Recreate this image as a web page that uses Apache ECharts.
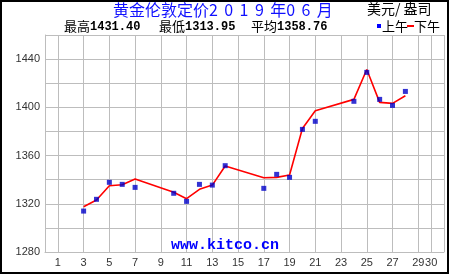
<!DOCTYPE html>
<html>
<head>
<meta charset="utf-8">
<script src="https://cdn.jsdelivr.net/npm/echarts@6/dist/echarts.min.js"></script>
<style>
html,body{margin:0;padding:0;background:#fff;}
#c{width:450px;height:275px;}
</style>
</head>
<body>
<div id="c"></div>
<script>
// Days of month (category axis 0..31)
var days = [];
for (var d = 0; d <= 31; d++) days.push(String(d));

// Trading days and prices
var tradeDays = [3, 4, 5, 6, 7, 10, 11, 12, 13, 14, 17, 18, 19, 20, 21, 24, 25, 26, 27, 28];
var amPrices = [1313.95, 1323.7, 1337.8, 1336.1, 1333.6, 1328.7, 1322.0, 1336.1, 1335.5, 1351.6, 1332.8, 1344.4, 1341.9, 1381.7, 1388.4, 1405.0, 1429.0, 1406.6, 1401.6, 1413.2];
var pmPrices = [1317.6, 1323.1, 1335.0, 1335.8, 1340.5, 1329.5, 1324.2, 1332.0, 1335.5, 1351.3, 1341.6, 1341.9, 1343.8, 1382.5, 1397.2, 1406.6, 1431.40, 1404.1, 1403.3, 1409.6];

var xLabelDays = [1, 3, 5, 7, 9, 11, 13, 15, 17, 19, 21, 23, 25, 27, 29, 30];
var xGridDays = [1, 3, 5, 7, 9, 11, 13, 15, 17, 19, 21, 23, 25, 27, 29, 30, 31];
var yLabels = [1280, 1320, 1360, 1400, 1440];

var titleParts = ['黄金伦敦定价', '2 ', '0 ', '1 ', '9 ', '年', '0 ', '6 ', '月'];
var unitText = '美元/ 盎司';
var statHigh = '1431.40', statLow = '1313.95', statAvg = '1358.76';

function toSeries(vals) {
  var arr = days.map(function () { return null; });
  tradeDays.forEach(function (d, i) { arr[d] = vals[i]; });
  return arr;
}

var chart = echarts.init(document.getElementById('c'));
var cjk = '"Noto Sans CJK SC", sans-serif';
var mono = '"Liberation Mono", "DejaVu Sans Mono", monospace';

var titleRich = titleParts.map(function (p) {
  return /^[0-9]/.test(p) ? '{d|' + p + '}' : '{t|' + p + '}';
}).join('');

var statRich = { c: { font: '13px ' + cjk, fill: '#000' }, n: { font: 'bold 12px ' + mono, fill: '#000' } };

chart.setOption({
  animation: false,
  backgroundColor: '#fff',
  grid: { left: 45, right: 6, top: 35, bottom: 23, containLabel: false },
  xAxis: {
    type: 'category',
    data: days,
    boundaryGap: false,
    axisLine: { show: true, lineStyle: { color: '#bdbdbd', width: 1 } },
    axisTick: { show: false },
    axisLabel: {
      interval: function (i) { return xLabelDays.indexOf(i) >= 0; },
      color: '#333', fontSize: 11, fontFamily: '"Liberation Sans", sans-serif', margin: 5
    },
    splitLine: {
      show: true,
      interval: function (i) { return xGridDays.indexOf(i) >= 0; },
      lineStyle: { color: '#bdbdbd', width: 1 }
    }
  },
  yAxis: {
    type: 'value',
    min: 1280, max: 1460, interval: 20,
    axisLine: { show: true, lineStyle: { color: '#bdbdbd', width: 1 } },
    axisTick: { show: false },
    axisLabel: {
      formatter: function (v) { return yLabels.indexOf(v) >= 0 ? String(v) : ''; },
      color: '#333', fontSize: 11, fontFamily: '"Liberation Sans", sans-serif', margin: 5
    },
    splitLine: { show: true, lineStyle: { color: '#bdbdbd', width: 1 } }
  },
  series: [
    {
      name: '下午', type: 'line', data: toSeries(pmPrices), connectNulls: true,
      showSymbol: false, lineStyle: { color: '#ff0000', width: 1.6 }, itemStyle: { color: '#ff0000' }, z: 2
    },
    {
      name: '上午', type: 'scatter', data: toSeries(amPrices), symbol: 'rect', symbolSize: 5,
      itemStyle: { color: '#0000c8' }, z: 3
    }
  ],
  graphic: [
    { type: 'rect', shape: { x: 1, y: 1, width: 447, height: 272 }, style: { fill: 'none', stroke: '#000', lineWidth: 2 }, silent: true },
    { type: 'text', left: 113, top: 2, style: { text: titleRich, rich: {
      t: { font: '16px ' + cjk, fill: '#1010ff' },
      d: { font: '16px ' + cjk, fill: '#1010ff', width: 15.3, align: 'left' }
    } } },
    { type: 'text', left: 367, top: 2, style: { text: unitText, fill: '#000', font: '14px ' + cjk } },
    { type: 'text', left: 64, top: 20, style: { text: '{c|最高}{n|' + statHigh + '}', rich: statRich } },
    { type: 'text', left: 159, top: 20, style: { text: '{c|最低}{n|' + statLow + '}', rich: statRich } },
    { type: 'text', left: 251, top: 20, style: { text: '{c|平均}{n|' + statAvg + '}', rich: statRich } },
    { type: 'rect', shape: { x: 377, y: 24, width: 4, height: 4 }, style: { fill: '#0000ff' } },
    { type: 'text', left: 382, top: 20, style: { text: '上午', fill: '#000', font: '13px ' + cjk } },
    { type: 'rect', shape: { x: 407, y: 25, width: 7, height: 2 }, style: { fill: '#ff0000' } },
    { type: 'text', left: 414, top: 20, style: { text: '下午', fill: '#000', font: '13px ' + cjk } },
    { type: 'text', left: 'center', top: 238, z: 10, style: { text: 'www.kitco.cn', fill: '#0000ff', font: 'bold 15px ' + mono } }
  ]
});
</script>
</body>
</html>
